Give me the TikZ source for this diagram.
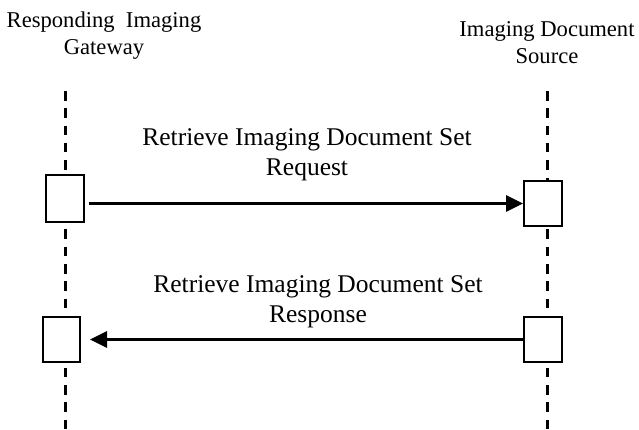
\documentclass[tikz,border=0pt]{standalone}
\usepackage{fontspec}
\setmainfont{Liberation Serif}
\usetikzlibrary{arrows.meta, positioning, calc}

\begin{document}
\begin{tikzpicture}[
    x=1pt, y=-1pt,
    actbox/.style={draw, line width=2pt, fill=white, inner sep=0pt},
    lifeline/.style={line width=3pt, dash pattern=on 9.5pt off 7.8pt},
    msg/.style={-{Triangle[length=17pt, width=16pt]}, line width=3pt},
    actor/.style={align=center, anchor=base, font=\fontsize{22.6}{27}\selectfont},
    msglbl/.style={align=center, anchor=base, font=\fontsize{25.5}{29.5}\selectfont}
]
    \useasboundingbox (0,0) rectangle (639,429);

    % actors (base = last line)
    \node[actor] (gw)  at (104,54) {Responding\ \ Imaging\\Gateway};
    \node[actor] (src) at (547,63) {Imaging Document\\Source};

    % lifelines
    \coordinate (gwtop)  at (65.5,91);
    \coordinate (gwbot)  at (65.5,429);
    \coordinate (srctop) at (547.5,91);
    \coordinate (srcbot) at (547.5,429);
    \draw[lifeline] (gwtop) -- (gwbot);
    \draw[lifeline] (srctop) -- (srcbot);

    % activation boxes
    \node[actbox, minimum width=38pt, minimum height=47pt] (gw1)  at (65,198.5) {};
    \node[actbox, minimum width=38pt, minimum height=45pt] (src1) at (543,203.5) {};
    \node[actbox, minimum width=37pt, minimum height=45pt] (gw2)  at (61.5,339.5) {};
    \node[actbox, minimum width=38pt, minimum height=45pt] (src2) at (543,339.5) {};

    % messages
    \draw[msg] ([xshift=4pt]gw1.east |- src1.west) -- (src1.west);
    \node[msglbl] (req) at (307,175) {Retrieve Imaging Document Set\\Request};

    \draw[msg] (src2.west) -- ([xshift=9pt]gw2.east);
    \node[msglbl] (resp) at (318,322) {Retrieve Imaging Document Set\\Response};

\end{tikzpicture}
\end{document}
